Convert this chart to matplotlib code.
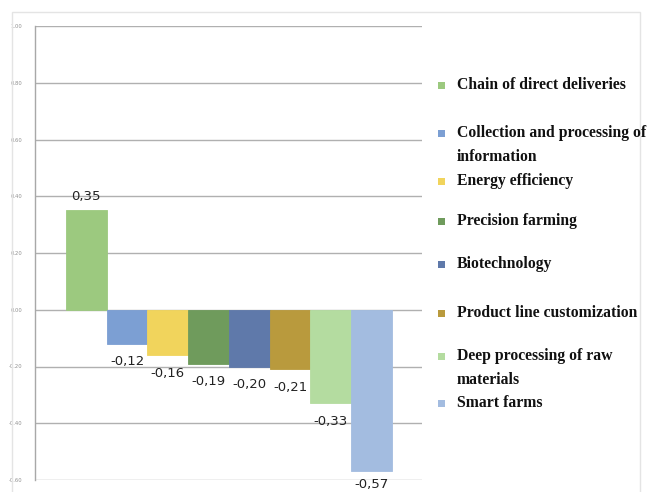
import matplotlib
matplotlib.use("Agg")

import numpy as np
import matplotlib.pyplot as plt
from matplotlib.patches import Rectangle


# ----------------------------------
# data
# ----------------------------------

categories=[
    "Chain of direct deliveries",
    "Collection and processing of\ninformation",
    "Energy efficiency",
    "Precision farming",
    "Biotechnology",
    "Product line customization",
    "Deep processing of raw\nmaterials",
    "Smart farms"
]

values=[0.35,-0.12,-0.16,-0.19,-0.20,-0.21,-0.33,-0.57]

colors=[
    "#9cc97f",
    "#7c9fd3",
    "#f1d45c",
    "#6f9b5c",
    "#5f79aa",
    "#b99a3d",
    "#b4dca0",
    "#a3bce0"
]

yticks=[-0.60,-0.40,-0.20,0.00,0.20,0.40,0.60,0.80,1.00]

# legend rows (figure y in pixels from top)
legend_y=[85,133,181,221,264,313,356,403]


fig=plt.figure(figsize=(6.49,4.92),dpi=100)

W,H=649,492

# light frame around the chart
fig.patches.append(Rectangle((12/W,-2/H),(640-12)/W,(482)/H,
                             transform=fig.transFigure,fill=False,
                             edgecolor="#e4e4e4",linewidth=1))

ax=fig.add_axes([35/W,1-480/H,387/W,454/H])

x=np.arange(len(values))

ax.bar(x,values,width=1.0,color=colors,edgecolor=colors,linewidth=0.6,zorder=3)

ax.set_ylim(-0.60,1.00)
ax.set_xlim(-1.26,8.24)

ax.set_yticks(yticks)
ax.set_yticklabels([f"{t:.2f}" for t in yticks],fontsize=3.8,color="#909090")
ax.set_xticks([])

ax.yaxis.grid(True,color="#b0b0b0",linewidth=1.0,zorder=0)
ax.tick_params(axis="y",length=0,pad=9)

for s in ["top","right","bottom"]:
    ax.spines[s].set_visible(False)
ax.spines["left"].set_color("#a8a8a8")
ax.spines["left"].set_linewidth(1.0)

# value labels (negative ones kept inside the figure)
for i,v in enumerate(values):
    txt=f"{v:.2f}".replace(".",",")
    if v>=0:
        yl=v+0.05
    else:
        yl=max(v-0.063,-0.615)
    ax.text(i,yl,txt,ha="center",va="center",fontsize=9.5,color="#222222",
            clip_on=False)

# legend
for name,c,yy in zip(categories,colors,legend_y):
    fig.patches.append(Rectangle((438/W,1-(yy+4)/H),7/W,7/H,
                                 transform=fig.transFigure,
                                 facecolor=c,edgecolor="none"))
    fig.text(457/W,1-(yy-8)/H,name,ha="left",va="top",
             fontsize=11.3,fontweight="bold",family="Liberation Serif",
             color="#111111",linespacing=1.65)

plt.savefig("out.png",dpi=100)
plt.close()
